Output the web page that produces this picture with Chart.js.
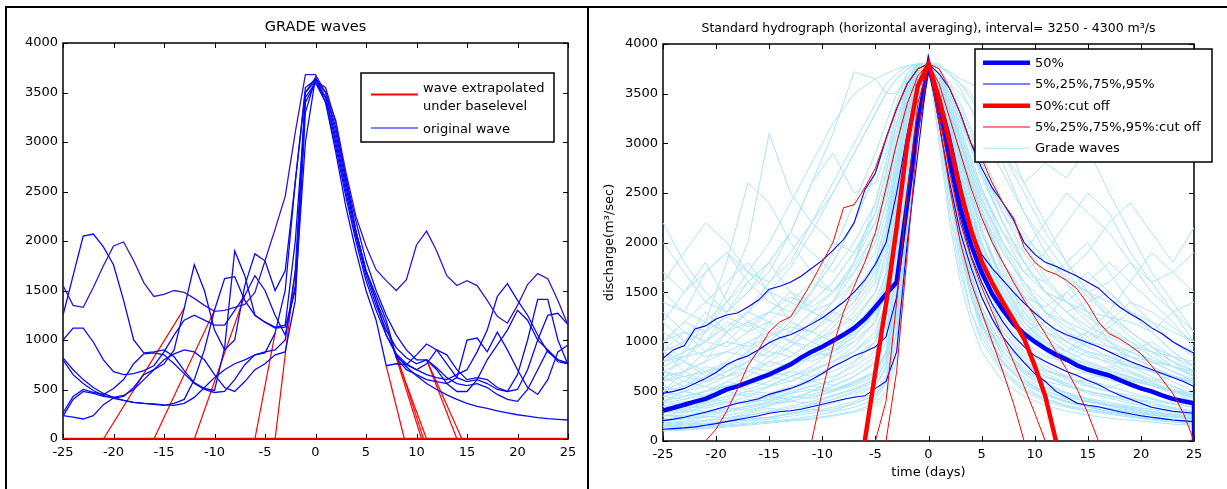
<!DOCTYPE html>
<html><head><meta charset="utf-8">
<script src="https://cdn.jsdelivr.net/npm/chart.js@4.4.1/dist/chart.umd.min.js"></script>
<style>
html,body{margin:0;padding:0;background:#fff;width:1227px;height:489px;overflow:hidden;}
canvas{position:absolute;top:0;}
#cl{left:0;width:588px;height:489px;}
#cr{left:590px;width:637px;height:489px;}
.bl{position:absolute;background:#000;}
</style></head><body>
<canvas id="cl" width="588" height="489"></canvas>
<canvas id="cr" width="637" height="489"></canvas>
<div class="bl" style="left:5px;top:6px;width:1222px;height:2px"></div>
<div class="bl" style="left:5px;top:6px;width:2px;height:483px"></div>
<div class="bl" style="left:587px;top:6px;width:2px;height:483px"></div>
<script>
// ---------- DATA ----------
const xTicks = [-25,-20,-15,-10,-5,0,5,10,15,20,25];
const yTicks = [0,500,1000,1500,2000,2500,3000,3500,4000];
const days = [-25,-24,-23,-22,-21,-20,-19,-18,-17,-16,-15,-14,-13,-12,-11,-10,-9,-8,-7,-6,-5,-4,-3,-2,-1,0,1,2,3,4,5,6,7,8,9,10,11,12,13,14,15,16,17,18,19,20,21,22,23,24,25];

// Left panel: original GRADE waves (values per day)
const wave1 = [1550,1350,1330,1530,1750,1950,1990,1800,1580,1440,1460,1500,1480,1420,1350,1290,1300,1330,1360,1480,1800,2120,2450,3100,3680,3680,3500,3220,2700,2250,1950,1710,1600,1500,1610,1960,2100,1900,1650,1550,1600,1550,1400,1240,1170,1350,1560,1670,1620,1400,1150];
const wave2 = [1250,1650,2050,2070,1940,1760,1400,1000,870,880,900,830,690,570,510,490,920,1900,1650,1250,1180,1120,1130,1500,3000,3650,3400,2950,2450,2000,1600,1300,1050,850,730,640,560,500,445,400,360,330,310,285,265,245,230,215,205,198,192];
const wave3 = [230,400,480,460,430,420,440,500,600,700,760,900,1320,1760,1500,1100,900,1000,1550,1870,1800,1500,1700,2600,3500,3620,3550,3200,2650,2100,1700,1450,1200,830,750,700,760,900,850,700,600,620,600,520,480,500,700,1000,1250,1270,1155];
const wave4 = [820,700,600,520,460,420,390,370,360,350,340,360,400,600,900,1300,1620,1640,1400,1250,1180,1130,1150,2000,3400,3600,3450,3050,2550,2100,1700,1400,1050,860,760,700,650,620,600,650,700,880,1100,1440,1570,1400,1250,1050,880,800,768];
const wave5 = [1000,1120,1120,980,800,680,650,660,690,740,880,1050,1200,1250,1200,1150,1150,1300,1450,1650,1500,1250,1050,1550,3450,3600,3400,2900,2350,1900,1500,1200,740,760,750,850,960,900,760,620,580,600,560,500,480,650,1000,1410,1410,1000,750];
const wave6 = [800,650,560,490,440,410,390,370,360,355,345,340,360,420,520,620,700,760,800,850,870,1070,1500,2600,3550,3630,3500,3100,2600,2100,1700,1400,1150,820,700,650,600,580,560,620,1000,1020,880,1080,900,700,520,450,600,880,950];
const wave7 = [263,430,500,470,450,510,600,760,860,870,850,760,660,560,500,470,480,600,750,850,880,900,1000,1700,3500,3650,3500,3150,2650,2200,1800,1500,1250,1050,900,800,800,700,560,480,480,600,800,950,1100,1300,1200,1000,900,800,760];
const wave8 = [236,222,202,236,347,414,430,520,650,700,800,860,900,880,800,650,520,480,580,700,760,850,880,1400,3300,3640,3450,3000,2500,2050,1650,1350,1100,920,820,760,800,720,620,560,540,560,520,450,400,380,500,700,900,780,760];
const originalWaves = [wave1, wave2, wave3, wave4, wave5, wave6, wave7, wave8];
// extrapolated parts under baselevel: [day, value] vertices
const extrapolated = [
  [[-21,0],[-13,1320]], [[-16,0],[-10,1300]], [[-12,0],[-7,1450]], [[-6,0],[-4,1070]], [[-4,0],[-2,1700]],
  [[7,740],[8.8,0]], [[8,820],[10.5,0]], [[8,860],[10.7,0]], [[8,830],[11,0]], [[11,800],[14,0]], [[11,800],[14.5,0]]
];
const baseLevel = [[-25,0],[25,0]];
const leftLegendLabels = [['wave extrapolated','under baselevel'],['original wave']];

// Right panel: grade waves (values at gradeDays)
const gradeDays = [-25,-23,-21,-19,-17,-15,-13,-11,-9,-7,-5,-4,-3,-2,-1,0,1,2,3,4,5,7,9,11,13,15,17,19,21,23,25];
const gradeWaves = [
 [110,120,130,150,170,190,210,230,260,300,380,500,900,2000,3300,3800,3200,2400,1800,1300,1050,700,520,420,350,310,280,250,220,200,180],
 [150,160,180,200,220,240,270,300,340,400,480,650,1200,2400,3500,3800,3400,2700,2100,1650,1300,850,620,480,400,340,300,270,240,220,200],
 [200,230,260,290,330,380,430,470,520,580,700,900,1500,2600,3600,3800,3500,2900,2300,1800,1450,1000,740,580,480,420,370,330,300,270,240],
 [250,300,280,350,420,400,480,560,600,700,850,1100,1800,2900,3700,3800,3550,3000,2500,2000,1600,1100,820,650,560,480,430,380,340,300,260],
 [300,280,350,400,380,450,520,650,700,800,1000,1300,2000,3000,3700,3800,3600,3100,2600,2100,1750,1250,950,760,650,560,500,440,380,330,290],
 [180,200,240,260,300,350,420,500,620,780,1000,1400,2200,3200,3750,3800,3300,2600,2000,1500,1150,800,600,500,440,400,370,340,320,300,270],
 [400,450,500,600,550,650,700,850,900,1100,1300,1700,2400,3200,3750,3800,3700,3300,2900,2500,2100,1600,1200,950,800,700,620,560,500,440,380],
 [500,700,600,650,800,900,850,1000,1200,1400,1700,2100,2800,3400,3780,3800,3650,3300,2900,2600,2300,1800,1450,1200,1000,880,780,700,620,550,480],
 [800,1000,1300,1100,900,1200,1000,900,1100,1300,1600,2000,2700,3400,3780,3800,3500,3100,2700,2300,2000,1500,1150,900,800,1000,900,700,600,650,550],
 [1200,1500,1700,1900,1600,1400,1300,1500,1800,2200,2700,3000,3400,3700,3800,3800,3700,3400,3100,2800,2500,2100,1800,1500,1300,1400,1500,1300,1100,900,750],
 [600,900,1200,1800,2600,2400,2000,1700,1500,1800,2200,2600,3100,3500,3780,3800,3600,3200,2800,2500,2200,1800,1500,1300,1200,1100,1000,900,800,700,620],
 [700,800,1100,1500,2000,3100,2500,2200,2500,2900,3300,3500,3650,3750,3800,3800,3600,3300,3000,2700,2400,1900,1600,1400,1200,1000,900,850,800,750,700],
 [900,1100,1000,1300,1600,1800,2100,2600,3100,3720,3650,3500,3500,3650,3780,3800,3700,3450,3200,3000,2800,2400,2100,1800,1600,1500,1400,1300,1200,1100,1000],
 [1000,1200,1400,1300,1500,1700,2100,2600,2900,2500,2600,2900,3300,3650,3800,3800,3550,3200,2900,2600,2300,1900,1600,1300,1100,1000,950,900,820,750,680],
 [1700,1500,1800,1400,1200,1100,1000,1200,1400,1700,2000,2400,3000,3550,3800,3800,3650,3350,3050,2750,2450,2000,1700,1600,1800,2000,1700,1400,1200,1000,850],
 [400,500,450,600,700,650,800,900,1000,1200,1500,1900,2600,3300,3750,3800,3750,3600,3500,3350,3200,2900,2600,2800,2650,2950,2500,2100,1700,1400,1100],
 [300,350,400,450,500,550,600,700,800,950,1200,1600,2300,3100,3700,3800,3700,3500,3250,3000,2700,2300,2000,1800,1700,1900,2200,2400,2100,1800,2150],
 [1300,1100,900,1000,1200,1000,900,800,900,1000,1200,1500,2200,3100,3700,3800,3600,3200,2700,2300,1900,1400,1100,1200,1500,1300,1000,800,700,600,500],
 [350,400,380,450,500,480,550,600,650,750,900,1200,1900,2900,3650,3800,3450,2850,2300,1850,1500,1100,850,700,650,700,750,680,600,500,420],
 [220,250,280,300,350,380,400,450,500,560,650,850,1400,2500,3550,3800,3300,2600,2000,1550,1250,900,700,600,550,500,460,420,380,340,300],
 [140,150,170,190,210,240,280,320,380,450,550,750,1300,2300,3400,3800,3250,2500,1900,1450,1150,780,580,460,390,340,300,270,240,210,190],
 [500,600,750,700,850,1000,1200,1100,1300,1600,2000,2400,3000,3500,3780,3800,3600,3250,2900,2550,2250,1800,1450,1200,1050,950,1150,1300,1100,900,750],
 [900,700,800,1100,1300,1200,1400,1600,1500,1700,2100,2500,3100,3550,3800,3800,3650,3400,3100,2800,2500,2100,1700,1900,2200,2500,2300,1900,1600,1300,1000],
 [650,550,700,800,700,850,1000,950,1150,1350,1650,2000,2700,3300,3750,3800,3550,3150,2700,2250,1900,1400,1100,950,850,780,720,900,1000,850,700],
 [280,320,300,350,400,450,420,500,550,650,800,1050,1700,2800,3650,3800,3400,2800,2250,1800,1450,1050,800,650,560,500,460,430,400,370,340],
 [1600,1900,2200,2000,1700,1500,1400,1300,1500,1800,2300,2700,3200,3600,3800,3800,3700,3450,3200,2950,2700,2350,2050,1850,1650,1500,1600,1800,1500,1300,1100],
 [2200,1800,1500,1300,1500,1800,2100,1900,1700,2000,2400,2800,3300,3650,3800,3800,3650,3350,3000,2700,2400,2000,1700,1500,1400,1300,1250,1200,1100,1300,1400],
 [450,420,500,550,600,700,650,750,900,1050,1300,1600,2200,2900,3500,3800,3800,3700,3600,3500,3300,2900,2500,2100,1800,1500,1300,1100,950,800,650],
 [120,130,140,160,180,200,220,250,290,340,420,580,1000,2100,3300,3800,3100,2300,1700,1300,1000,680,500,400,340,300,270,240,210,190,170],
 [1000,800,650,800,1000,900,1100,1300,1200,1400,1800,2200,2900,3500,3780,3800,3550,3150,2750,2350,2000,1500,1200,1000,900,1100,1300,1100,950,800,700],
 [750,850,1000,1200,1100,1300,1500,1400,1600,1900,2300,2700,3200,3600,3800,3800,3700,3500,3250,2950,2650,2200,1800,1500,1400,1600,1800,1600,1400,1200,950],
 [350,300,400,500,450,550,650,600,750,900,1100,1400,2100,3000,3700,3800,3500,3000,2500,2100,1750,1300,1000,850,800,900,850,750,650,550,450],
 [100,110,125,140,160,180,200,220,250,290,350,450,800,1800,3200,3800,3000,2200,1600,1200,900,600,450,360,300,260,230,210,190,170,160],
 [160,180,170,210,250,230,280,320,300,380,450,600,1100,2200,3400,3800,3300,2600,2000,1500,1200,800,600,480,400,350,320,290,260,240,220],
 [260,240,300,330,310,360,400,380,450,520,620,800,1300,2400,3500,3800,3400,2800,2200,1700,1350,950,700,560,470,410,360,320,290,260,230],
 [400,350,380,420,480,450,520,600,560,650,780,1000,1600,2700,3600,3800,3500,2950,2400,1950,1600,1100,850,680,580,500,450,400,360,320,290],
 [550,500,450,520,600,560,650,720,800,900,1050,1300,2000,3000,3700,3800,3550,3100,2650,2200,1850,1300,1000,800,700,620,550,490,430,380,340],
 [700,600,550,650,750,700,800,900,850,1000,1200,1500,2200,3100,3700,3800,3600,3200,2800,2400,2000,1450,1100,900,760,680,620,560,500,440,400],
 [900,800,700,750,900,850,950,1100,1000,1150,1400,1700,2400,3200,3750,3800,3650,3300,2900,2500,2150,1600,1250,1000,850,760,700,640,580,520,460],
 [1100,950,850,900,1000,1100,1000,1200,1300,1200,1500,1900,2600,3350,3780,3800,3700,3400,3050,2700,2350,1800,1400,1150,1000,900,820,760,700,640,580],
 [300,350,330,380,450,420,500,550,520,600,700,900,1500,2600,3550,3800,3350,2700,2100,1650,1300,900,680,540,450,390,350,310,280,250,230],
 [200,220,250,230,280,330,300,360,420,480,560,720,1250,2300,3450,3800,3300,2650,2050,1600,1250,850,640,510,420,360,330,300,270,250,230],
 [130,140,150,170,200,220,250,280,320,380,460,620,1100,2200,3400,3800,3200,2500,1900,1450,1100,720,540,430,360,320,290,260,230,210,190],
 [600,650,700,650,700,800,750,850,950,1100,1300,1600,2300,3150,3720,3800,3650,3350,3000,2650,2300,1700,1300,1050,900,800,720,650,580,510,450],
 [800,850,900,1000,950,1050,1150,1100,1250,1450,1750,2100,2800,3450,3780,3800,3700,3450,3150,2850,2550,2000,1600,1300,1100,950,850,780,720,660,600],
 [1400,1300,1200,1100,1200,1300,1250,1400,1600,1900,2300,2700,3200,3600,3800,3800,3700,3500,3250,3000,2700,2200,1800,1500,1300,1150,1050,950,900,850,800],
 [450,500,550,500,600,650,600,700,800,900,1100,1400,2000,2900,3650,3800,3500,3000,2500,2050,1700,1200,900,720,620,550,500,460,420,380,340],
 [350,330,360,400,380,420,480,520,500,580,680,880,1450,2550,3550,3800,3350,2750,2150,1700,1350,950,720,580,490,430,390,350,320,290,260],
 [1000,1100,1000,950,1100,1200,1100,1300,1400,1600,1900,2300,2900,3500,3780,3800,3650,3350,3050,2750,2450,1950,1550,1300,1150,1050,1200,1400,1300,1150,1000],
 [250,260,280,320,350,400,450,430,500,600,700,900,1500,2600,3550,3800,3400,2800,2250,1800,1450,1000,780,650,580,620,700,640,560,480,400],
 [170,190,210,230,260,290,330,370,420,500,600,800,1350,2450,3500,3800,3350,2700,2100,1650,1300,900,680,540,450,400,360,330,300,270,250],
 [1200,1000,1100,1250,1150,1300,1450,1350,1500,1750,2100,2500,3000,3500,3780,3800,3600,3300,2950,2600,2300,1800,1450,1350,1500,1700,1500,1300,1150,1000,900],
 [650,700,800,900,850,750,850,1000,1100,1250,1500,1800,2500,3250,3750,3800,3600,3250,2850,2450,2100,1600,1250,1050,900,1000,1150,1000,850,750,650],
 [500,450,500,560,520,600,700,650,750,850,1000,1250,1900,2900,3650,3800,3450,2950,2400,1950,1600,1150,880,720,640,580,540,600,560,500,440],
 [150,170,200,230,260,300,350,400,460,530,620,800,1350,2400,3500,3800,3250,2550,1950,1500,1180,780,580,470,400,350,320,290,260,240,220],
 [380,420,460,520,600,680,760,850,950,1080,1250,1550,2200,3100,3700,3800,3600,3250,2850,2450,2100,1550,1200,980,840,740,670,610,560,510,470],
 [900,1000,1200,1400,1600,1800,1500,1300,1200,1400,1700,2100,2700,3350,3780,3800,3650,3350,3000,2650,2300,1750,1350,1100,950,850,800,750,700,650,600],
 [2000,1700,1400,1600,1800,1500,1200,1100,1300,1500,1800,2200,2800,3400,3780,3800,3600,3250,2850,2450,2100,1650,1300,1100,1000,1100,1300,1600,1900,1700,1500],
 [1500,1300,1700,1900,1700,1600,1800,2200,2000,1900,2200,2500,3000,3500,3780,3800,3700,3450,3150,2850,2550,2100,1900,2200,2500,2300,2100,1800,1600,1700,1900],
 [700,650,600,700,800,950,1100,1000,900,1050,1300,1600,2300,3200,3740,3800,3550,3150,2700,2300,1950,1450,1150,950,800,720,680,620,560,500,440],
 [600,700,900,1100,1300,1600,1900,2200,2600,3000,3400,3600,3700,3780,3800,3800,3780,3700,3600,3450,3250,2800,2300,1900,1600,1300,1100,950,800,700,600],
 [400,500,600,700,800,1000,1200,1500,1900,2400,2900,3200,3500,3700,3790,3800,3750,3600,3400,3150,2900,2400,2000,1650,1400,1200,1000,850,750,650,550],
 [1000,1200,1100,1400,1700,2000,2400,2800,3200,3500,3650,3700,3750,3780,3800,3800,3700,3550,3350,3100,2800,2300,1900,1600,1400,1250,1100,1000,900,800,700],
 [300,350,450,550,650,800,950,1150,1400,1800,2400,2800,3200,3550,3750,3800,3780,3720,3650,3600,3550,3100,2600,2200,1800,1500,1250,1050,900,750,650],
 [800,900,1000,1150,1300,1500,1750,2100,2500,2900,3300,3500,3650,3750,3800,3800,3700,3500,3250,3000,2700,2200,1800,1500,1300,1100,950,850,750,650,580],
 [500,550,650,750,900,1050,1250,1500,1800,2200,2700,3000,3350,3600,3780,3800,3780,3700,3550,3350,3100,2700,2300,2000,1700,1450,1250,1100,950,850,750]
];
// percentiles (per day), horizontal averaging
const p50 = [306,335,365,397,425,470,520,550,590,630,670,720,770,840,900,950,1010,1070,1140,1230,1350,1480,1600,2400,3200,3800,3350,2850,2350,1980,1700,1480,1320,1180,1080,1000,930,870,820,760,720,690,660,615,570,530,500,460,425,400,380];
const p95 = [834,920,960,1130,1160,1230,1270,1290,1350,1420,1530,1560,1600,1660,1740,1820,1920,2030,2200,2530,2700,3050,3350,3600,3750,3800,3700,3550,3300,3000,2750,2550,2400,2230,2000,1880,1800,1760,1710,1660,1600,1540,1440,1350,1280,1220,1140,1080,1000,940,884];
const p75 = [480,500,530,580,630,690,770,820,860,920,990,1040,1070,1120,1180,1240,1320,1400,1500,1620,1780,2000,2500,3100,3600,3800,3500,3100,2600,2150,1880,1740,1620,1500,1390,1290,1200,1120,1070,1030,990,950,900,850,800,760,720,680,640,600,548];
const p25 = [205,220,240,265,290,320,350,380,400,425,470,500,530,570,620,680,750,800,860,900,950,1050,1450,2300,3100,3800,3300,2750,2250,1870,1600,1380,1200,1060,950,860,800,750,700,660,610,570,510,460,420,380,340,320,300,290,279];
const p5  = [118,125,132,142,158,175,195,215,235,255,280,295,305,320,345,370,395,420,440,455,530,600,900,2000,2900,3800,3200,2600,2100,1750,1450,1230,1050,910,790,680,600,500,440,380,360,345,320,295,275,255,240,225,212,203,195];
const pctEndDrop = [25, 0];
// cut-off percentiles: [day, value]
const cut50 = [[-6,0],[-5,700],[-4,1380],[-3,2150],[-2,3000],[-1,3580],[0,3800],[1,3450],[2,3000],[3,2520],[4,2130],[5,1810],[6,1590],[7,1400],[8,1220],[9,1030],[10,760],[11,450],[12,0]];
const cut95 = [[-21,0],[-20,120],[-19,300],[-18,520],[-17,760],[-16,920],[-15,1100],[-14,1200],[-13,1250],[-12,1420],[-11,1600],[-10,1800],[-9,2000],[-8,2350],[-7,2380],[-6,2550],[-5,2750],[-4,3050],[-3,3350],[-2,3600],[-1,3750],[0,3800],[1,3750],[2,3550],[3,3300],[4,3000],[5,2850],[6,2600],[7,2400],[8,2250],[9,1950],[10,1800],[11,1720],[12,1680],[13,1620],[14,1530],[15,1380],[16,1200],[17,1080],[18,1030],[19,960],[20,880],[21,760],[22,620],[23,480],[24,280],[25,0]];
const cut75 = [[-11,0],[-10,500],[-9,950],[-8,1300],[-7,1560],[-6,1800],[-5,2100],[-4,2550],[-3,3000],[-2,3400],[-1,3680],[0,3800],[1,3600],[2,3250],[3,2900],[4,2550],[5,2250],[6,2000],[7,1800],[8,1600],[9,1420],[10,1250],[11,1080],[12,900],[13,720],[14,520],[15,280],[16,0]];
const cut25 = [[-5,0],[-4,400],[-3,1400],[-2,2500],[-1,3400],[0,3800],[1,3300],[2,2700],[3,2200],[4,1850],[5,1550],[6,1300],[7,1050],[8,800],[9,550],[10,280],[11,0]];
const cut5  = [[-4,0],[-3,700],[-2,1900],[-1,3100],[0,3800],[1,3200],[2,2550],[3,2000],[4,1600],[5,1300],[6,1000],[7,700],[8,380],[9,0]];
const rightLegendLabels = ['50%','5%,25%,75%,95%','50%:cut off','5%,25%,75%,95%:cut off','Grade waves'];

// ---------- HELPERS ----------
const FAM = '"DejaVu Sans"';
const F13 = {family: FAM, size: 13, weight: 'normal'};
const toXY = (xs, ys) => xs.map((x, i) => ({x: x, y: ys[i]}));
const pairs = p => p.map(([x, y]) => ({x: x, y: y}));

function xScale(h, title) {
  return {
    type: 'linear', min: -25, max: 25,
    grid: {display: false, drawTicks: false}, border: {display: false},
    afterBuildTicks: s => { s.ticks = xTicks.map(v => ({value: v})); },
    afterFit: s => { s.height = h; },
    ticks: {font: F13, color: '#000', padding: 6, autoSkip: false, maxRotation: 0, minRotation: 0, callback: v => String(v)},
    title: title || {display: false}
  };
}
function yScale(w, title) {
  return {
    type: 'linear', min: 0, max: 4000,
    grid: {display: false, drawTicks: false}, border: {display: false},
    afterBuildTicks: s => { s.ticks = yTicks.map(v => ({value: v})); },
    afterFit: s => { s.width = w; },
    ticks: {font: F13, color: '#000', padding: 5, autoSkip: false, callback: v => String(v)},
    title: title || {display: false}
  };
}
const matlabAxes = {
  id: 'matlabAxes',
  beforeDatasetsDraw(chart) {
    const {ctx, chartArea: a} = chart;
    const x = chart.scales.x, y = chart.scales.y;
    ctx.save();
    ctx.strokeStyle = '#000';
    ctx.lineWidth = 1.5;
    ctx.strokeRect(a.left, a.top, a.right - a.left, a.bottom - a.top);
    ctx.lineWidth = 1;
    ctx.beginPath();
    x.ticks.forEach(t => {
      const px = Math.round(x.getPixelForValue(t.value)) + 0.5;
      ctx.moveTo(px, a.bottom); ctx.lineTo(px, a.bottom - 5);
      ctx.moveTo(px, a.top); ctx.lineTo(px, a.top + 5);
    });
    y.ticks.forEach(t => {
      const py = Math.round(y.getPixelForValue(t.value)) + 0.5;
      ctx.moveTo(a.left, py); ctx.lineTo(a.left + 5, py);
      ctx.moveTo(a.right, py); ctx.lineTo(a.right - 5, py);
    });
    ctx.stroke();
    ctx.restore();
  }
};
function boxLegend(id, box, items) {
  return {
    id: id,
    afterDraw(chart) {
      const ctx = chart.ctx;
      ctx.save();
      ctx.fillStyle = '#fff';
      ctx.fillRect(box.x, box.y, box.w, box.h);
      ctx.strokeStyle = '#000';
      ctx.lineWidth = 1.5;
      ctx.strokeRect(box.x, box.y, box.w, box.h);
      ctx.font = '13px ' + FAM;
      ctx.textBaseline = 'middle';
      ctx.textAlign = 'left';
      items.forEach(it => {
        ctx.strokeStyle = it.color; ctx.lineWidth = it.width;
        ctx.beginPath(); ctx.moveTo(box.sx1, it.ly); ctx.lineTo(box.sx2, it.ly); ctx.stroke();
        ctx.fillStyle = '#000';
        it.text.forEach(([t, ty]) => ctx.fillText(t, box.tx, ty));
      });
      ctx.restore();
    }
  };
}
const common = {
  responsive: false, animation: false, events: [],
  elements: {point: {radius: 0, hoverRadius: 0}, line: {tension: 0, fill: false}},
};

// ---------- LEFT CHART ----------
const leftSets = [];
originalWaves.forEach((w, i) => leftSets.push({data: toXY(days, w), borderColor: i === 0 ? '#3c12d2' : '#0a0af2', borderWidth: 1.3, order: 1}));
extrapolated.forEach(seg => leftSets.push({data: pairs(seg), borderColor: '#ff0000', borderWidth: 1.2, order: 2}));
leftSets.push({data: pairs(baseLevel), borderColor: '#ff0000', borderWidth: 2.4, order: 2});

new Chart(document.getElementById('cl'), {
  type: 'line',
  data: {datasets: leftSets},
  options: Object.assign({}, common, {
    layout: {padding: {left: 0, right: 20, top: 0, bottom: 0}},
    scales: {x: xScale(50), y: yScale(63)},
    plugins: {
      legend: {display: false}, tooltip: {enabled: false},
      title: {display: true, text: 'GRADE waves', color: '#000', font: {family: FAM, size: 14.5, weight: 'normal'}, padding: {top: 18.3, bottom: 7.3}, fullSize: false}
    }
  }),
  plugins: [matlabAxes, boxLegend('legL', {x: 361, y: 73, w: 193, h: 69, sx1: 371, sx2: 418, tx: 423}, [
    {color: '#ff0000', width: 2.2, ly: 94.5, text: [[leftLegendLabels[0][0], 88.3], [leftLegendLabels[0][1], 107]]},
    {color: '#0000ff', width: 1.1, ly: 128, text: [[leftLegendLabels[1][0], 129.8]]}
  ])]
});

// ---------- RIGHT CHART ----------
const rightSets = [];
gradeWaves.forEach(w => rightSets.push({data: toXY(gradeDays, w), borderColor: '#abe4f8', borderWidth: 1, order: 5}));
[p95, p75, p25, p5].forEach(p => rightSets.push({data: toXY(days, p).concat([{x: pctEndDrop[0], y: pctEndDrop[1]}]), borderColor: '#0000ff', borderWidth: 1.1, order: 4}));
rightSets.push({data: toXY(days, p50).concat([{x: pctEndDrop[0], y: pctEndDrop[1]}]), borderColor: '#0000ff', borderWidth: 4.5, order: 3});
[cut95, cut75, cut25, cut5].forEach(c => rightSets.push({data: pairs(c), borderColor: '#ff0000', borderWidth: 1, order: 2}));
rightSets.push({data: pairs(cut50), borderColor: '#ff0000', borderWidth: 4.5, order: 1});

new Chart(document.getElementById('cr'), {
  type: 'line',
  data: {datasets: rightSets},
  options: Object.assign({}, common, {
    layout: {padding: {left: 0, right: 33, top: 0, bottom: 0}},
    scales: {
      x: xScale(48, {display: true, text: 'time (days)', color: '#000', font: F13, padding: {top: 0, bottom: 9}}),
      y: yScale(73, {display: true, text: 'discharge(m\u00B3/sec)', color: '#000', font: F13, padding: {top: 12, bottom: 0}})
    },
    plugins: {
      legend: {display: false}, tooltip: {enabled: false},
      title: {display: true, text: 'Standard hydrograph (horizontal averaging), interval= 3250 - 4300 m\u00B3/s', color: '#000', font: {family: FAM, size: 12.5, weight: 'normal'}, padding: {top: 21, bottom: 8}, fullSize: false}
    }
  }),
  plugins: [matlabAxes, boxLegend('legR', {x: 385, y: 49, w: 237, h: 113, sx1: 393, sx2: 440, tx: 445}, [
    {color: '#0000ff', width: 4.5, ly: 62.8, text: [[rightLegendLabels[0], 63.3]]},
    {color: '#0000ff', width: 1, ly: 84, text: [[rightLegendLabels[1], 84.8]]},
    {color: '#ff0000', width: 4.5, ly: 105.8, text: [[rightLegendLabels[2], 106.2]]},
    {color: '#ff0000', width: 1, ly: 127, text: [[rightLegendLabels[3], 127.6]]},
    {color: '#abe4f8', width: 1, ly: 148.2, text: [[rightLegendLabels[4], 149]]}
  ])]
});
</script></body></html>
